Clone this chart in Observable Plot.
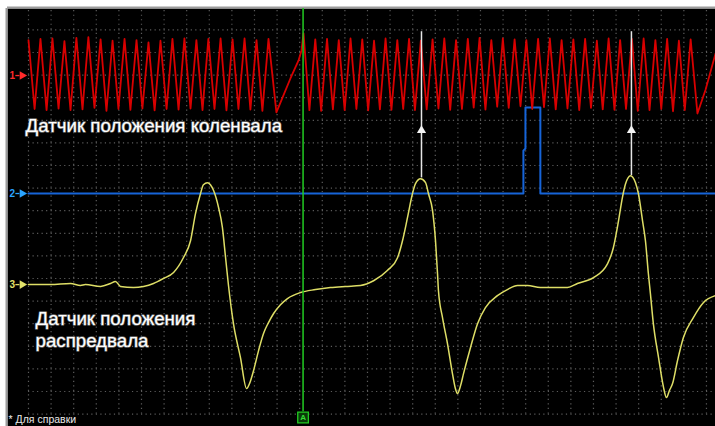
<!DOCTYPE html>
<html>
<head>
<meta charset="utf-8">
<script src="https://cdn.jsdelivr.net/npm/d3@7"></script>
<script src="https://cdn.jsdelivr.net/npm/@observablehq/plot@0.6"></script>
<style>
  html, body { margin: 0; padding: 0; background: #fff; }
  #chart { width: 715px; height: 426px; overflow: hidden; }
  #chart svg { display: block; overflow: hidden; }
</style>
</head>
<body>
<div id="chart"></div>
<script>
// Units: oscilloscope divisions. x = time (div), y = level (div from bottom grid line)
const xGrid = d3.range(0, 31);
const yGrid = d3.range(0, 18);

// Channel 1 - crankshaft sensor (red): vertices [time, level]
const crank = [
  [0.00,16.55],[0.27,13.50],[0.53,16.60],[0.80,13.45],[1.06,16.62],[1.33,13.52],[1.59,16.50],[1.86,13.45],
  [2.12,16.65],[2.39,13.48],[2.65,16.68],[2.92,13.55],[3.19,16.58],[3.45,13.42],[3.72,16.52],[3.98,13.50],
  [4.25,16.60],[4.51,13.46],[4.78,16.55],[5.04,13.52],[5.31,16.45],[5.58,13.44],[5.84,16.52],[6.11,13.50],
  [6.37,16.60],[6.64,13.47],[6.90,16.62],[7.17,13.52],[7.43,16.55],[7.70,13.45],[7.96,16.60],[8.23,13.50],
  [8.50,16.62],[8.76,13.44],[9.03,16.58],[9.29,13.50],[9.56,16.62],[9.82,13.47],[10.09,16.55],[10.35,13.42],
  [10.62,16.60],
  [10.97,13.35],[11.24,14.00],[11.59,14.85],[11.95,15.65],[12.08,16.09],[12.17,16.85],
  [12.43,13.45],[12.69,16.58],[12.95,13.42],[13.21,16.60],[13.47,13.48],[13.73,16.55],[13.99,13.45],[14.25,16.62],
  [14.51,13.50],[14.77,16.58],[15.03,13.44],[15.29,16.52],[15.55,13.48],[15.80,16.62],[16.06,13.46],[16.32,16.55],
  [16.58,13.50],[16.84,16.60],[17.10,13.45],[17.36,16.52],[17.62,13.48],[17.88,16.58],[18.14,13.52],[18.40,16.62],
  [18.66,13.46],[18.92,16.55],[19.18,13.50],[19.44,16.60],[19.70,13.56],[19.96,16.65],[20.22,13.47],[20.48,16.55],
  [20.74,13.60],[20.99,16.62],[21.25,13.55],[21.51,16.58],[21.77,13.62],[22.03,16.55],[22.29,13.50],[22.55,16.60],
  [22.81,13.58],[23.07,16.62],[23.33,13.48],[23.59,16.55],[23.85,13.52],[24.11,16.58],[24.37,13.45],[24.63,16.60],
  [24.89,13.55],[25.15,16.52],[25.41,13.48],[25.67,16.62],[25.93,13.46],[26.18,16.55],[26.44,13.50],[26.70,16.60],
  [26.96,13.42],[27.22,16.62],[27.48,13.45],[27.74,16.55],[28.00,13.50],[28.26,16.60],[28.52,13.40],[28.78,16.52],
  [29.04,13.45],[29.30,16.58],
  [29.60,13.30],[29.96,14.35],[30.40,15.95]
];

// Channel 2 - blue trace
const hall = [
  [0.00,9.76],[21.90,9.76],[21.90,11.66],[21.99,11.75],[21.99,13.57],[22.65,13.57],[22.65,9.76],[30.40,9.76]
];

// Channel 3 - camshaft sensor (yellow)
const cam = [
  [0.00,5.73],[0.97,5.73],[1.86,5.78],[2.30,5.69],[2.52,5.73],[3.19,5.65],[3.63,5.78],[3.85,5.87],[4.07,5.65],
  [4.65,5.60],[5.09,5.65],[5.53,5.78],[5.97,6.00],[6.42,6.27],[6.86,6.93],[7.17,7.67],[7.39,8.87],[7.61,9.75],
  [7.74,10.15],[7.92,10.24],[8.05,10.15],[8.19,9.89],[8.41,9.14],[8.58,8.26],[8.72,6.93],[8.85,5.69],[9.07,4.00],
  [9.38,2.50],[9.65,1.13],[9.78,1.35],[9.96,1.93],[10.18,2.81],[10.40,3.57],[10.62,4.05],[10.84,4.44],[11.15,4.84],
  [11.46,5.11],[12.04,5.38],[12.70,5.51],[13.36,5.60],[14.03,5.65],[14.69,5.69],[15.27,5.90],[15.88,6.35],
  [16.33,6.92],[16.55,7.67],[16.77,8.69],[16.99,9.75],[17.12,10.19],[17.35,10.41],[17.57,10.24],[17.70,9.75],
  [17.88,9.00],[18.01,7.67],[18.10,6.21],[18.14,5.47],[18.32,4.27],[18.54,3.12],[18.76,1.79],[18.89,1.13],
  [18.98,0.91],[19.12,1.26],[19.25,1.79],[19.56,2.95],[19.87,4.00],[20.22,4.71],[20.75,5.24],[21.19,5.51],
  [21.64,5.69],[22.08,5.69],[22.65,5.60],[23.23,5.60],[23.85,5.60],[24.29,5.78],[25.00,6.04],[25.62,6.65],
  [25.88,7.36],[26.11,8.56],[26.28,9.58],[26.42,10.19],[26.64,10.55],[26.86,10.24],[26.99,9.75],[27.17,8.56],
  [27.30,7.67],[27.43,6.21],[27.52,5.33],[27.65,4.00],[27.88,2.50],[28.10,1.18],[28.23,0.73],[28.36,1.04],
  [28.50,1.35],[28.72,2.37],[28.98,3.39],[29.42,4.27],[29.87,4.94],[30.40,5.24]
];

// White tooth markers
const markerT = [17.39, 26.68];
const markerEnd = [10.45, 10.55];
const markerTop = 16.92;
const markerArrow = 12.55;

// Cursor A
const cursorT = 12.15;

// Channel labels
const channelNames = ["1", "2", "3"];
const channelLevel = [14.98, 9.76, 5.73];

// Texts
const labelCrank = "Датчик положения коленвала";
const labelCam = "Датчик положения\nраспредвала";
const footnote = "* Для справки";

const xMin = -0.929, xMax = 30.40, yMin = -0.549, yMax = 17.947;
const font = "'Liberation Sans', Arial, sans-serif";
const gridStyle = {stroke: "#5c5c5c", strokeWidth: 1.2, strokeDasharray: "1.2,3.32"};
const chColors = ["#ff2a2a", "#2aa4ff", "#e2e26a"];

const chart = Plot.plot({
  width: 715,
  height: 426,
  marginLeft: 7, marginTop: 8, marginRight: 0, marginBottom: 0,
  x: {domain: [xMin, xMax], axis: null},
  y: {domain: [yMin, yMax], axis: null},
  color: {type: "identity"},
  style: {background: "white", overflow: "hidden", fontFamily: font},
  marks: [
    Plot.frame({fill: "black", stroke: "none"}),
    Plot.ruleX([xMin], {stroke: "#9c9c9c", strokeWidth: 2, dx: -1}),
    Plot.ruleY([yMax], {stroke: "#9c9c9c", strokeWidth: 2, dy: -1}),
    Plot.ruleY(yGrid, {x1: 0, x2: xMax, ...gridStyle}),
    Plot.ruleX(xGrid, {y1: 0, y2: yMax, ...gridStyle}),
    Plot.line(hall, {x: d => d[0], y: d => d[1], stroke: "#1664d8", strokeWidth: 2}),
    Plot.line(crank, {x: d => d[0], y: d => d[1], stroke: "#d80000", strokeWidth: 1.8}),
    Plot.line(cam, {x: d => d[0], y: d => d[1], stroke: "#dede66", strokeWidth: 1.5, curve: "monotone-x"}),
    Plot.ruleX(markerT, {x: d => d, y1: (d, i) => markerEnd[i], y2: markerTop, stroke: "#e6e6e6", strokeWidth: 1.5}),
    Plot.dot(markerT, {x: d => d, y: markerArrow, symbol: "triangle", r: 3.4, fill: "#f2f2f2", stroke: "none"}),
    Plot.ruleX([cursorT], {x: d => d, y1: 0.1, y2: yMax, stroke: "#22cc22", strokeWidth: 1.5}),
    Plot.dot([cursorT], {x: d => d, y: -0.15, symbol: "square", r: 6, fill: "#0a3a0a", stroke: "#22cc22", strokeWidth: 1.3}),
    Plot.text(["A"], {x: cursorT, y: -0.15, fill: "#33dd33", fontSize: 8, fontWeight: "bold"}),
    Plot.text(channelNames, {x: -0.72, y: (d, i) => channelLevel[i], fill: (d, i) => chColors[i], fontSize: 10, fontWeight: "bold"}),
    Plot.dot(channelNames, {x: -0.28, y: (d, i) => channelLevel[i], symbol: "triangle", rotate: 90, r: 3.2, fill: (d, i) => chColors[i], stroke: "none"}),
    Plot.ruleY(channelNames, {x1: -0.56, x2: -0.38, y: (d, i) => channelLevel[i], stroke: (d, i) => chColors[i], strokeWidth: 1.3}),
    Plot.text([labelCrank], {x: -0.13, y: 12.50, textAnchor: "start", lineAnchor: "bottom", fill: "white", stroke: "#6a6a6a", strokeWidth: 1.4, fontSize: 18.7, fontFamily: font}),
    Plot.text([labelCam], {x: 0.31, y: 2.96, textAnchor: "start", lineAnchor: "bottom", lineHeight: 1.18, fill: "white", stroke: "#6a6a6a", strokeWidth: 1.4, fontSize: 18.7, fontFamily: font}),
    Plot.text([footnote], {x: -0.88, y: -0.40, textAnchor: "start", lineAnchor: "bottom", fill: "#e8e8e8", fontSize: 10.5, fontFamily: font})
  ]
});
document.getElementById("chart").append(chart);
</script>
</body>
</html>
